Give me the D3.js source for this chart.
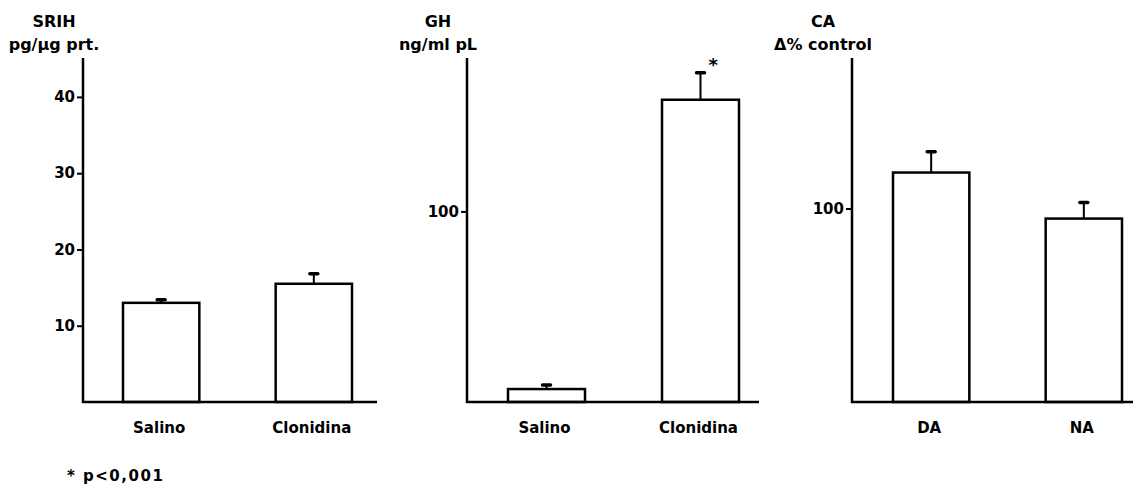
<!DOCTYPE html>
<html>
<head>
<meta charset="utf-8">
<script src="https://cdn.jsdelivr.net/npm/d3@7"></script>
<style>
  html, body { margin: 0; padding: 0; background: #fff; }
  svg { display: block; }
  text { font-family: "DejaVu Sans", sans-serif; font-weight: bold; fill: #000; }
</style>
</head>
<body>
<svg id="chart" width="1133" height="487"></svg>
<script>
// ---- data ----
const sriHCategories = ["Salino", "Clonidina"];
const sriHValues = [13.0, 15.5];
const sriHErrors = [0.4, 1.3];
const sriHTicks = [10, 20, 30, 40];

const ghCategories = ["Salino", "Clonidina"];
const ghValues = [6.8, 158.6];
const ghErrors = [2.1, 14.2];
const ghTicks = [100];
const ghSignificant = [false, true];

const caCategories = ["DA", "NA"];
const caValues = [118.6, 94.8];
const caErrors = [10.8, 8.3];
const caTicks = [100];

const footnote = "* p<0,001";

// ---- layout ----
const svg = d3.select("#chart");
const yTop = 58, yBase = 402;

const panels = [
  { title: "SRIH", unit: "pg/\u03BCg prt.", cats: sriHCategories, vals: sriHValues, errs: sriHErrors,
    ticks: sriHTicks, yMax: 45.1, axisX: 83, axisEnd: 377, bars: [123, 352], sig: [false, false] },
  { title: "GH", unit: "ng/ml pL", cats: ghCategories, vals: ghValues, errs: ghErrors,
    ticks: ghTicks, yMax: 180.5, axisX: 467, axisEnd: 759, bars: [508, 739], sig: ghSignificant },
  { title: "CA", unit: "\u0394% control", cats: caCategories, vals: caValues, errs: caErrors,
    ticks: caTicks, yMax: 177.8, axisX: 852, axisEnd: 1133, bars: [893, 1122], sig: [false, false] }
];

panels.forEach(p => {
  const y = d3.scaleLinear().domain([0, p.yMax]).range([yBase, yTop]);
  const x = d3.scaleBand().domain(p.cats).range(p.bars).paddingInner(0.5).paddingOuter(0);
  const g = svg.append("g");

  // y axis
  const yAxis = d3.axisLeft(y).tickValues(p.ticks).tickSize(6).tickPadding(2).tickFormat(d3.format("d"));
  const ya = g.append("g").attr("transform", `translate(${p.axisX},0)`).call(yAxis);
  ya.select(".domain").remove();
  ya.selectAll(".tick line").attr("stroke", "#000").attr("stroke-width", 2);
  ya.selectAll(".tick text").attr("font-size", 15).attr("font-family", "DejaVu Sans")
    .attr("font-weight", "bold").attr("fill", "#000");
  g.append("line").attr("x1", p.axisX).attr("x2", p.axisX)
    .attr("y1", yTop).attr("y2", yBase + 1)
    .attr("stroke", "#000").attr("stroke-width", 2.5);

  // bars
  g.selectAll("rect.bar").data(p.cats).enter().append("rect")
    .attr("x", d => x(d))
    .attr("y", (d, i) => y(p.vals[i]))
    .attr("width", x.bandwidth())
    .attr("height", (d, i) => yBase - y(p.vals[i]))
    .attr("fill", "#fff").attr("stroke", "#000").attr("stroke-width", 2.5);

  // error bars
  p.cats.forEach((c, i) => {
    const cx = x(c) + x.bandwidth() / 2;
    const yv = y(p.vals[i]), ye = y(p.vals[i] + p.errs[i]);
    g.append("line").attr("x1", cx).attr("x2", cx).attr("y1", yv).attr("y2", ye)
      .attr("stroke", "#000").attr("stroke-width", 2);
    g.append("line").attr("x1", cx - 4).attr("x2", cx + 4).attr("y1", ye).attr("y2", ye)
      .attr("stroke", "#000").attr("stroke-width", 3.5).attr("stroke-linecap", "round");
    if (p.sig[i]) {
      g.append("text").attr("x", cx + 8).attr("y", ye - 2).attr("font-size", 18)
        .text("*");
    }
  });

  // x axis baseline
  g.append("line").attr("x1", p.axisX - 1).attr("x2", p.axisEnd)
    .attr("y1", yBase).attr("y2", yBase)
    .attr("stroke", "#000").attr("stroke-width", 2.5);

  // category labels
  g.selectAll("text.cat").data(p.cats).enter().append("text")
    .attr("x", d => x(d) + x.bandwidth() / 2 - 2)
    .attr("y", 433).attr("text-anchor", "middle").attr("font-size", 15)
    .text(d => d);

  // titles
  const tx = p.axisX - 29;
  g.append("text").attr("x", tx).attr("y", 27).attr("text-anchor", "middle")
    .attr("font-size", 16).text(p.title);
  g.append("text").attr("x", tx).attr("y", 50).attr("text-anchor", "middle")
    .attr("font-size", 16).text(p.unit);
});

svg.append("text").attr("x", 67).attr("y", 481).attr("font-size", 15)
  .attr("font-weight", "normal").attr("letter-spacing", 1.5).text(footnote);
</script>
</body>
</html>
